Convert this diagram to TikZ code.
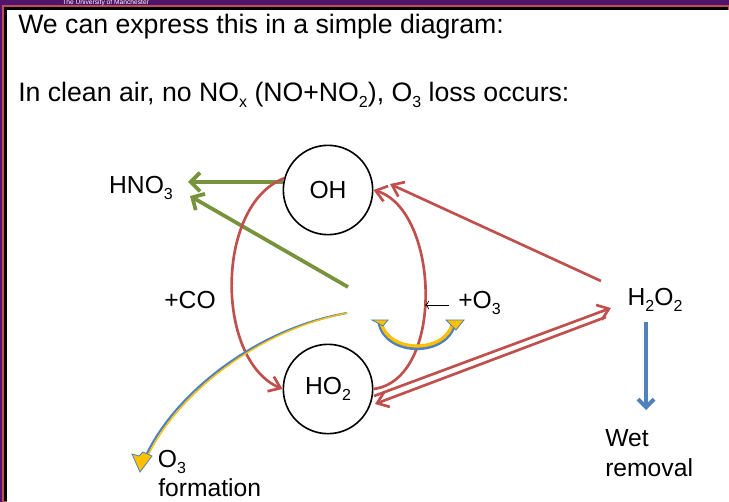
\documentclass[tikz,border=0pt]{standalone}
\usepackage{fontspec}
\setmainfont{Liberation Sans}
\usetikzlibrary{arrows.meta}
\newcommand\lsub[1]{\raisebox{-0.45ex}{\fontsize{12}{12}\selectfont #1}}
\definecolor{rr}{RGB}{192,80,77}
\definecolor{gg}{RGB}{119,147,60}
\definecolor{bb}{RGB}{79,129,189}
\definecolor{yy}{RGB}{255,192,0}
\definecolor{pp}{RGB}{80,20,110}
\begin{document}
\begin{tikzpicture}[x=0.75pt,y=-0.75pt,
 txt/.style={font=\fontsize{18.5}{22}\selectfont,inner sep=0pt},
 big/.style={font=\fontsize{20}{24}\selectfont,inner sep=0pt,anchor=west},
 circ/.style={draw,circle,line width=1.2pt,minimum size=67pt,font=\fontsize{18.5}{22}\selectfont},
 red/.style={draw=rr,line width=2pt},
 ha/.style={-{Straight Barb[length=8pt,width=12pt]}},
 green/.style={draw=gg,line width=2.8pt,-{Straight Barb[length=7pt,width=14pt]}}]
\useasboundingbox (0,0) rectangle (729,502);
\fill[pp] (0,0) rectangle (729,502);
\fill[red] (3,6) rectangle (729,502);
\fill[white] (7,10) rectangle (729,502);
\node[text=white,font=\fontsize{5}{6}\selectfont,anchor=west,inner sep=0pt] (uni) at (62,3) {The University of Manchester};
\node[big] (t1) at (18,27) {We can express this in a simple diagram:};
\node[big] (t2) at (18,95) {In clean air, no NO\lsub{x} (NO+NO\lsub{2}), O\lsub{3} loss occurs:};

\node[circ] (oh) at (328,190) {OH};
\node[circ] (ho2) at (328,389) {HO\lsub{2}};
\node[txt] (hno3) at (141,188) {HNO\lsub{3}};
\node[txt] (co) at (190,300) {+CO};
\node[txt,anchor=west] (o3) at (458,303) {+O\lsub{3}};
\node[txt] (h2o2) at (655,300) {H\lsub{2}O\lsub{2}};
\node[txt] (o3f) at (172,462) {O\lsub{3}};
\node[txt,anchor=west] (form) at (158,488) {formation};
\node[txt,anchor=west] (wet) at (605,438) {Wet};
\node[txt,anchor=west] (rem) at (605,468) {removal};

\coordinate (gs) at (348,287);
\coordinate (bs) at (347,313);
\coordinate (ae) at (425,305);
\coordinate (as) at (449,305);

\draw[green] (oh.west|-0,182) -- (188,182);
\draw[green] (gs) -- (190,196);

\draw[red,ha] (oh.165) .. controls (215,205) and (215,360) .. (ho2.west);
\draw[red,ha] (ho2.east) .. controls (445,380) and (440,210) .. (oh.east);
\draw[red,ha] (601,281) -- (390,184);
\draw[red,ha] (606,317) -- (375,404);
\draw[red,ha] (374,396) -- (611,308);
\draw[-{To[length=3pt]},line width=0.5pt] (as) -- (ae);

\draw[bb,line width=1.6pt] (bs) .. controls (250,330) and (170,400) .. (145,458);
\draw[yy,line width=1pt] (bs) .. controls (250,332) and (172,402) .. (147,458);
\draw[bb,fill=yy,line width=0.6pt] (143,452) -- (152,456) -- (140,472) -- (132,454) -- (139,456) -- cycle;
\draw[bb,line width=4pt] (380,322) .. controls (386,356) and (448,356) .. (454,322);
\draw[yy,line width=2.4pt] (381,322) .. controls (387,354) and (447,354) .. (453,322);
\draw[bb,fill=yy,line width=0.6pt] (372,320) -- (388,320) -- (383,326) -- cycle;
\draw[bb,fill=yy,line width=0.6pt] (446,320) -- (464,320) -- (456,330) -- cycle;

\draw[bb,line width=3pt,-{Straight Barb[length=6pt,width=12pt]}] (646,322) -- (646,410);
\end{tikzpicture}
\end{document}
